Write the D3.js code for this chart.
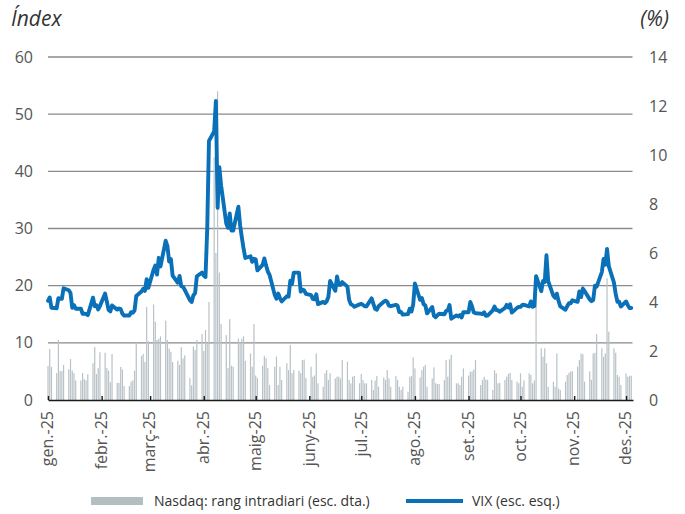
<!DOCTYPE html>
<html>
<head>
<meta charset="utf-8">
<script src="https://cdn.jsdelivr.net/npm/d3@7"></script>
<style>
  body { margin: 0; background: #fff; }
  svg { display: block; font-family: "Open Sans", sans-serif; }
</style>
</head>
<body>
<svg id="chart" width="685" height="514"></svg>
<script>
// month tick labels (Catalan)
var tickLabels = ["gen.-25", "febr.-25", "març-25", "abr.-25", "maig-25", "juny-25",
    "jul.-25", "ago.-25", "set.-25", "oct.-25", "nov.-25", "des.-25"];

// VIX close, one value per weekday of each month (left axis, index)
var vixGen = [17.35, 17.93, 16.13, 16.04, 17.82, 17.70, 17.70, 19.54, 19.19, 18.71, 16.12, 16.60, 15.97, 15.97, 15.06, 15.10, 15.02, 14.85, 17.90, 16.41, 16.56, 15.84, 16.43];
var vixFeb = [18.62, 17.21, 15.77, 15.50, 16.54, 15.81, 16.02, 15.89, 15.10, 14.77, 14.77, 15.35, 15.27, 15.66, 18.21, 18.98, 19.43, 19.10, 21.13, 19.63];
var vixMar = [22.78, 23.51, 21.93, 24.87, 23.37, 27.86, 26.92, 24.23, 24.66, 21.77, 20.51, 21.70, 19.90, 19.80, 19.28, 17.48, 17.15, 18.33, 18.69, 21.65, 22.28];
var vixAbr = [21.77, 21.51, 30.02, 45.31, 46.98, 52.33, 33.62, 40.72, 37.56, 30.89, 30.12, 32.64, 29.65, 29.65, 33.82, 30.57, 28.45, 26.47, 24.84, 25.15, 24.17, 24.70];
var vixMai = [24.60, 22.68, 23.64, 24.76, 23.55, 22.48, 21.90, 18.39, 17.71, 18.62, 17.83, 17.24, 18.14, 18.09, 20.87, 20.28, 22.29, 22.29, 18.96, 19.31, 19.18, 18.57];
var vixJun = [18.36, 17.69, 17.61, 18.48, 16.77, 17.16, 16.95, 17.26, 18.02, 20.82, 19.11, 21.60, 20.14, 20.14, 20.62, 19.83, 17.48, 16.76, 16.59, 16.32, 16.73];
var vixJul = [16.83, 16.64, 16.38, 16.38, 17.79, 16.81, 15.94, 15.78, 16.40, 17.20, 17.38, 17.16, 16.52, 16.41, 16.65, 16.50, 15.37, 15.39, 14.93, 15.03, 15.98, 15.48, 16.72];
var vixAgo = [20.38, 17.52, 17.85, 16.77, 16.57, 15.15, 16.25, 14.73, 14.49, 14.83, 15.09, 14.99, 15.57, 15.69, 16.60, 14.22, 14.79, 14.62, 14.85, 14.43, 15.36];
var vixSet = [15.36, 17.17, 16.35, 15.30, 15.18, 15.11, 15.04, 15.35, 14.71, 14.76, 15.69, 16.36, 15.72, 15.70, 15.45, 16.10, 16.64, 16.18, 16.74, 15.29, 16.12, 16.28];
var vixOct = [16.29, 16.63, 16.65, 16.37, 17.24, 16.30, 16.43, 21.66, 19.03, 20.81, 20.64, 25.31, 20.78, 18.23, 17.87, 18.60, 17.30, 16.37, 15.79, 16.42, 16.92, 16.91, 17.44];
var vixNov = [17.17, 19.00, 18.01, 19.50, 19.08, 17.60, 17.28, 17.51, 20.00, 19.83, 22.38, 24.69, 23.66, 26.42, 23.43, 20.52, 18.56, 17.19, 17.19, 16.35];
var vixDes = [17.24, 16.59, 16.08, 16.10];

// Nasdaq intraday range in %, one value per weekday (right axis)
var nasGen = [1.39, 2.08, 1.35, 1.10, 2.45, 1.18, 1.18, 1.43, 1.25, 1.67, 1.20, 1.10, 0.80, 0.80, 1.10, 0.85, 0.80, 1.05, 1.50, 2.16, 1.06, 1.30, 1.95];
var nasFeb = [1.93, 1.30, 1.20, 0.73, 1.88, 0.70, 0.70, 1.35, 1.25, 0.57, 0.57, 0.75, 0.80, 1.20, 2.37, 1.80, 1.88, 1.55, 3.80, 2.40];
var nasMar = [3.90, 3.20, 2.45, 2.50, 2.60, 3.24, 2.45, 2.10, 1.97, 1.55, 1.60, 1.43, 2.16, 1.70, 1.82, 0.90, 0.60, 2.18, 2.05, 2.45, 2.70];
var nasAbr = [2.00, 2.86, 2.30, 4.00, 9.90, 6.00, 12.60, 5.20, 3.10, 2.65, 1.30, 3.30, 1.40, 1.36, 2.50, 2.30, 2.50, 2.60, 1.60, 1.90, 1.36, 3.10];
var nasMai = [1.00, 0.90, 1.40, 1.80, 1.70, 1.30, 0.61, 1.36, 1.77, 0.61, 1.36, 0.82, 1.50, 1.22, 2.24, 1.09, 1.22, 1.20, 1.10, 1.63, 1.65, 0.90];
var nasJun = [1.36, 0.95, 1.00, 1.90, 0.68, 0.54, 1.09, 1.22, 0.82, 1.09, 0.88, 0.95, 0.95, 0.88, 1.63, 1.56, 0.82, 0.68, 0.95, 0.98, 0.68];
var nasJul = [1.06, 0.82, 0.68, 0.68, 0.82, 0.41, 0.79, 0.98, 0.54, 0.92, 0.82, 1.22, 0.88, 0.54, 0.98, 0.82, 0.54, 0.41, 0.54, 0.34, 0.95, 0.98, 1.74];
var nasAgo = [1.29, 0.92, 1.22, 1.36, 1.43, 0.54, 0.88, 1.33, 0.68, 0.65, 0.65, 0.82, 1.63, 0.95, 1.66, 1.84, 0.68, 0.68, 0.61, 0.95, 1.29];
var nasSet = [1.00, 1.16, 1.16, 1.25, 1.63, 0.61, 0.82, 0.95, 0.84, 0.82, 0.41, 1.22, 1.09, 0.68, 0.70, 0.82, 0.95, 1.06, 1.11, 0.82, 0.75, 0.68];
var nasOct = [1.09, 0.54, 0.80, 1.09, 1.02, 0.68, 0.80, 5.00, 2.11, 1.77, 2.11, 1.50, 0.54, 0.75, 0.54, 1.90, 0.47, 0.41, 0.75, 1.02, 1.11, 1.17, 1.17];
var nasNov = [1.36, 1.63, 1.90, 1.87, 0.75, 1.17, 0.82, 1.90, 1.93, 2.69, 2.11, 1.77, 1.90, 4.97, 2.79, 2.11, 1.93, 1.02, 0.95, 0.61];
var nasDes = [1.09, 0.95, 0.99, 0.99];

var vixByMonth = [vixGen, vixFeb, vixMar, vixAbr, vixMai, vixJun, vixJul, vixAgo, vixSet, vixOct, vixNov, vixDes];
var nasByMonth = [nasGen, nasFeb, nasMar, nasAbr, nasMai, nasJun, nasJul, nasAgo, nasSet, nasOct, nasNov, nasDes];

// attach each value to its weekday
var data = [];
vixByMonth.forEach(function (vals, m) {
    var days = d3.timeDay.range(new Date(2025, m, 1), new Date(2025, m + 1, 1))
        .filter(function (d) { return d.getDay() !== 0 && d.getDay() !== 6; });
    vals.forEach(function (v, i) {
        data.push({ date: days[i], vix: v, range: nasByMonth[m][i] });
    });
});

var svg = d3.select("#chart");

var x = d3.scaleTime()
    .domain([new Date(2025, 0, 1), new Date(2025, 11, 5)])
    .range([48, 633]);
var yL = d3.scaleLinear().domain([0, 60]).range([400, 57]);
var yR = d3.scaleLinear().domain([0, 14]).range([400, 57]);

// gridlines
svg.append("g")
    .selectAll("line")
    .data(d3.range(10, 61, 10))
    .enter().append("line")
    .attr("x1", 48)
    .attr("x2", 632.5)
    .attr("y1", function (d) { return yL(d); })
    .attr("y2", function (d) { return yL(d); })
    .attr("stroke", "#8a8a8a")
    .attr("stroke-width", 1.3);

// Nasdaq bars
svg.append("g")
    .selectAll("rect")
    .data(data)
    .enter().append("rect")
    .attr("x", function (d) { return x(d.date) - 0.6; })
    .attr("width", 1.2)
    .attr("y", function (d) { return yR(d.range); })
    .attr("height", function (d) { return yR(0) - yR(d.range); })
    .attr("fill", "#b9c2c6");

// VIX line
var line = d3.line()
    .x(function (d) { return x(d.date); })
    .y(function (d) { return yL(d.vix); });

svg.append("path")
    .datum(data)
    .attr("d", line)
    .attr("fill", "none")
    .attr("stroke", "#0a70b8")
    .attr("stroke-width", 3.9)
    .attr("stroke-linejoin", "round")
    .attr("stroke-linecap", "round");

// x axis
var monthStarts = d3.range(12).map(function (m) { return new Date(2025, m, 1); });
var xAxis = svg.append("g")
    .attr("transform", "translate(0,400)")
    .call(d3.axisBottom(x)
        .tickValues(monthStarts)
        .tickSizeInner(-4)
        .tickSizeOuter(0)
        .tickFormat(function (d, i) { return tickLabels[i]; }));
xAxis.select(".domain").attr("stroke", "#1a1a1a").attr("stroke-width", 1.6);
xAxis.selectAll(".tick line").attr("stroke", "#1a1a1a").attr("stroke-width", 1.4);
xAxis.selectAll(".tick text")
    .attr("transform", "rotate(-90)")
    .attr("text-anchor", "end")
    .attr("x", -11)
    .attr("y", 0)
    .attr("dy", "0.3em")
    .attr("fill", "#555")
    .style("font-size", "16px")
    .style("font-family", "'Open Sans', sans-serif");

// left axis
var left = svg.append("g")
    .attr("transform", "translate(48,0)")
    .call(d3.axisLeft(yL).tickValues(d3.range(0, 61, 10)).tickSize(0).tickPadding(15));
left.select(".domain").remove();
left.selectAll("text").attr("fill", "#555").style("font-size", "16px")
    .style("font-family", "'Open Sans', sans-serif");

// right axis
var right = svg.append("g")
    .attr("transform", "translate(633,0)")
    .call(d3.axisRight(yR).tickValues(d3.range(0, 15, 2)).tickSize(0).tickPadding(16));
right.select(".domain").remove();
right.selectAll("text").attr("fill", "#555").style("font-size", "16px")
    .style("font-family", "'Open Sans', sans-serif");

// axis titles
svg.append("text")
    .attr("x", 11).attr("y", 26)
    .attr("fill", "#333")
    .style("font-size", "21px")
    .style("font-style", "italic")
    .text("Índex");
svg.append("text")
    .attr("x", 669).attr("y", 26)
    .attr("text-anchor", "end")
    .attr("fill", "#333")
    .style("font-size", "21px")
    .style("font-style", "italic")
    .text("(%)");

// legend
var legend = svg.append("g");
legend.append("rect")
    .attr("x", 91).attr("y", 497).attr("width", 52).attr("height", 8)
    .attr("fill", "#b4bec2");
legend.append("text")
    .attr("x", 154).attr("y", 506)
    .attr("fill", "#333")
    .style("font-size", "14px")
    .text("Nasdaq: rang intradiari (esc. dta.)");
legend.append("line")
    .attr("x1", 406).attr("x2", 463).attr("y1", 501).attr("y2", 501)
    .attr("stroke", "#0a70b8").attr("stroke-width", 4);
legend.append("text")
    .attr("x", 472).attr("y", 506)
    .attr("fill", "#333")
    .style("font-size", "14px")
    .text("VIX (esc. esq.)");
</script>
</body>
</html>
